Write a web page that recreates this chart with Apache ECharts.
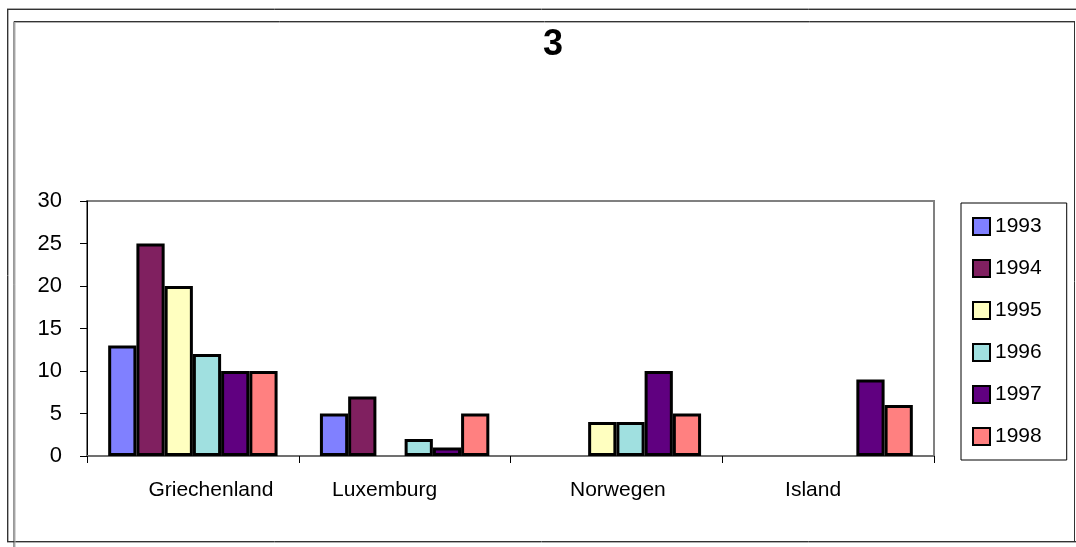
<!DOCTYPE html>
<html>
<head>
<meta charset="utf-8">
<script src="https://cdn.jsdelivr.net/npm/echarts@6/dist/echarts.min.js"></script>
<style>
  html, body { margin: 0; padding: 0; background: #fff; }
  #chart { width: 1076px; height: 547px; }
</style>
</head>
<body>
<div id="chart"></div>
<script>
// Countries on the category axis
const categories = ['Griechenland', 'Luxemburg', 'Norwegen', 'Island'];
// Years shown as series / legend entries
const years = ['1993', '1994', '1995', '1996', '1997', '1998'];
// Values per year (null = no entry)
const v1993 = [13, 5, null, null];
const v1994 = [25, 7, null, null];
const v1995 = [20, null, 4, null];
const v1996 = [12, 2, 4, null];
const v1997 = [10, 1, 10, 9];
const v1998 = [10, 5, 5, 6];
// Value axis range
const yMin = 0, yMax = 30, yStep = 5;

const seriesValues = [v1993, v1994, v1995, v1996, v1997, v1998];
const colors = ['#8080FF', '#802060', '#FFFFC0', '#A0E0E0', '#600080', '#FF8080'];
const FONT = 'Liberation Sans, Arial, sans-serif';

// horizontal nudge of each category label (px, + = right)
const labelNudge = [18, -20, 1.5, -15];
const rich = {};
labelNudge.forEach((d, i) => {
  rich['c' + i] = {
    fontSize: 21,
    fontFamily: FONT,
    color: '#000',
    padding: d >= 0 ? [0, 0, 0, 2 * d] : [0, -2 * d, 0, 0]
  };
});

// double frame around the chart
function frameLine(x1, y1, x2, y2, color) {
  return { type: 'line', silent: true, shape: { x1, y1, x2, y2 },
    style: { stroke: color, lineWidth: 1 } };
}
const frame = [
  // outer
  frameLine(7, 8.5, 1076, 8.5, '#a8a8a8'),
  frameLine(7, 9.5, 1076, 9.5, '#333'),
  frameLine(7.5, 9, 7.5, 542, '#333'),
  frameLine(8.5, 10, 8.5, 541, '#b0b0b0'),
  frameLine(7, 541.5, 1076, 541.5, '#333'),
  frameLine(7, 542.5, 1076, 542.5, '#b0b0b0'),
  // inner
  frameLine(14, 21.5, 1075, 21.5, '#333'),
  frameLine(15, 22.5, 1074, 22.5, '#b0b0b0'),
  frameLine(14, 21.5, 14, 547, '#333'),
  frameLine(15, 22.5, 15, 547, '#b0b0b0'),
  frameLine(1074.5, 21.5, 1074.5, 541.5, '#333')
];

const chart = echarts.init(document.getElementById('chart'), null, { renderer: 'canvas' });
chart.setOption({
  animation: false,
  backgroundColor: '#fff',
  title: {
    text: '3',
    left: 543,
    top: 27,
    padding: 0,
    textStyle: {
      fontSize: 36,
      fontWeight: 'bold',
      fontFamily: FONT,
      color: '#000'
    }
  },
  legend: {
    data: years,
    orient: 'vertical',
    left: 961,
    top: 203,
    padding: [13, 25, 13, 11],
    borderColor: '#000',
    borderWidth: 1,
    itemWidth: 17,
    itemHeight: 17,
    itemGap: 21,
    itemTextGap: 5,
    icon: 'rect',
    textStyle: {
      fontSize: 21,
      fontFamily: FONT,
      color: '#000'
    }
  },
  grid: {
    left: 87,
    right: 142,
    top: 201,
    bottom: 91,
    show: true,
    borderColor: '#808080',
    borderWidth: 2,
    backgroundColor: '#fff'
  },
  xAxis: {
    type: 'category',
    data: categories,
    boundaryGap: true,
    axisLine: { lineStyle: { color: '#707070', width: 2 } },
    axisTick: { show: true, length: 7, lineStyle: { color: '#000', width: 1 } },
    axisLabel: {
      interval: 0,
      margin: 24,
      formatter: (v, i) => '{c' + i + '|' + v + '}',
      rich: rich
    }
  },
  yAxis: {
    type: 'value',
    min: yMin,
    max: yMax,
    interval: yStep,
    splitLine: { show: false },
    axisLine: { show: true, lineStyle: { color: '#000', width: 1 } },
    axisTick: { show: true, length: 7, lineStyle: { color: '#000', width: 1 } },
    axisLabel: {
      margin: 25,
      fontSize: 22,
      fontFamily: FONT,
      color: '#000',
      padding: [5, 0, 0, 0]
    }
  },
  series: years.map((y, i) => ({
    name: y,
    type: 'bar',
    data: seriesValues[i],
    barGap: '0%',
    barCategoryGap: '20%',
    itemStyle: {
      color: colors[i],
      borderColor: '#000',
      borderWidth: 3
    }
  })),
  graphic: frame
});
</script>
</body>
</html>
